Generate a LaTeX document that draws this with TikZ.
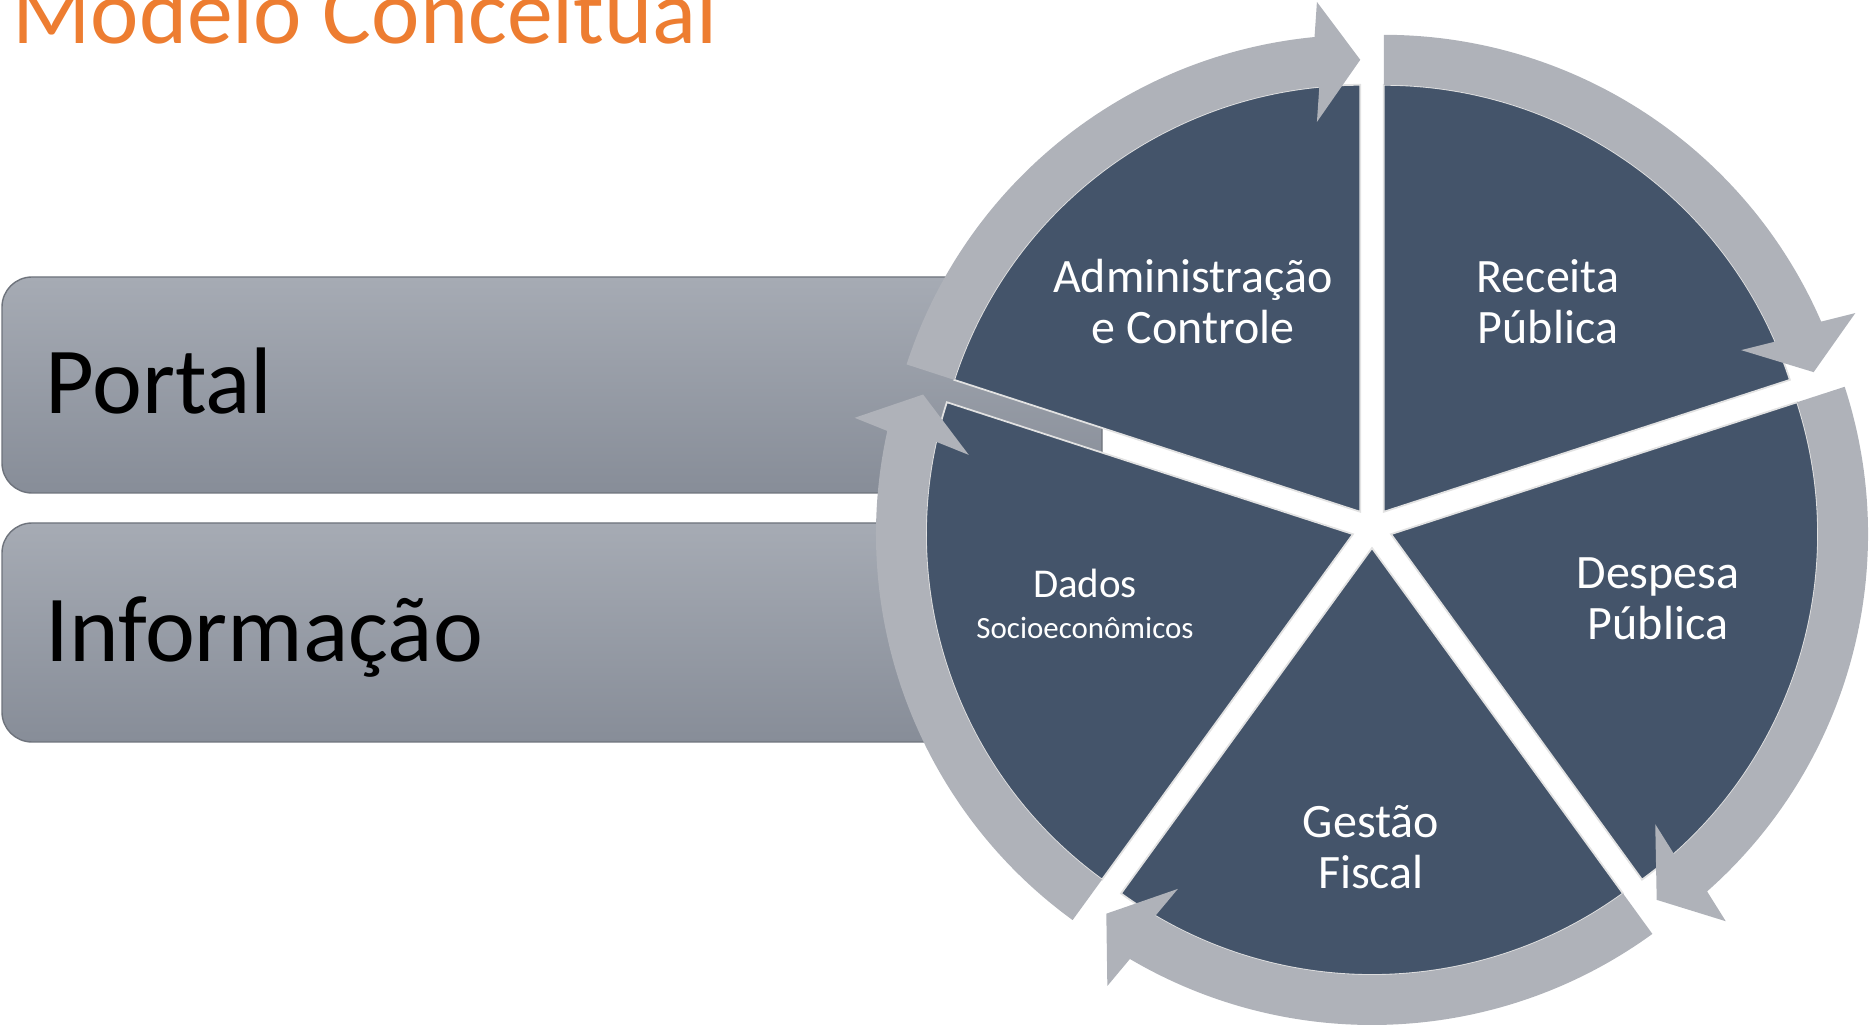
\documentclass[tikz,border=0pt]{standalone}
\usepackage{fontspec}
\setmainfont{Carlito}
\usetikzlibrary{calc}
\definecolor{cycleDark}{HTML}{44546A}
\definecolor{cycleGray}{HTML}{AFB2B9}
\definecolor{barTop}{HTML}{A6ABB4}
\definecolor{barBot}{HTML}{878D98}
\definecolor{barEdge}{HTML}{6E737C}
\definecolor{gapEdge}{HTML}{E2E2E2}
\definecolor{titleOrange}{HTML}{ED7D31}
% arrow band round one sector: vertex, start angle, end angle
\newcommand{\cyclearrow}[3]{%
  \pgfmathsetmacro{\headback}{#3+5.5}
  \fill[ring] ($(#1)+(#2:427)$) arc[start angle=#2, end angle=\headback, radius=427]
    -- ($(#1)+(\headback:452)+(#3:-60)$) -- ($(#1)+(#3:452)$)
    -- ($(#1)+(\headback:452)+(#3:60)$) -- ($(#1)+(\headback:477)$)
    arc[start angle=\headback, end angle=#2, radius=477] -- cycle;}

\begin{document}
\begin{tikzpicture}[
x=0.02cm, y=0.02cm,
bar/.style={draw=barEdge, line width=0.8pt, rounded corners=0.6cm, top color=barTop, bottom color=barBot},
bartext/.style={anchor=base west, inner sep=0pt, font=\fontsize{53.8}{60}\selectfont, text=black},
sector/.style={fill=cycleDark, draw=gapEdge, line width=1pt},
ring/.style={fill=cycleGray},
seglabel/.style={align=center, inner sep=0pt, text=white, font=\fontsize{27.3}{29}\selectfont},
titletext/.style={anchor=base west, inner sep=0pt, text=titleOrange, font=\fontsize{52.2}{54}\selectfont}
]
\clip (0,0) rectangle (1870,-1026);

% Left bars
\path[bar] (2,-277) rectangle (1102,-493);
\node[bartext] (portal) at (45,-414) {Portal};
\path[bar] (2,-523) rectangle (1102,-742);
\node[bartext] (info) at (45,-662) {Informação};

% Exploded pie, vertices pushed out along each bisector
\coordinate (ctr) at (1372,-528);
\coordinate (vAdm) at ($(ctr)+(126:20)$);
\coordinate (vRec) at ($(ctr)+(54:20)$);
\coordinate (vDes) at ($(ctr)+(-18:20)$);
\coordinate (vGes) at ($(ctr)+(-90:20)$);
\coordinate (vDad) at ($(ctr)+(-162:20)$);
\path[sector] (vAdm) -- ($(vAdm)+(162:427)$) arc[start angle=162, end angle=90, radius=427] -- cycle;
\path[sector] (vRec) -- ($(vRec)+(90:427)$) arc[start angle=90, end angle=18, radius=427] -- cycle;
\path[sector] (vDes) -- ($(vDes)+(18:427)$) arc[start angle=18, end angle=-54, radius=427] -- cycle;
\path[sector] (vGes) -- ($(vGes)+(-54:427)$) arc[start angle=-54, end angle=-126, radius=427] -- cycle;
\path[sector] (vDad) -- ($(vDad)+(-126:427)$) arc[start angle=-126, end angle=-198, radius=427] -- cycle;

% Clockwise arrows
\cyclearrow{vAdm}{162}{90}
\cyclearrow{vRec}{90}{18}
\cyclearrow{vDes}{18}{-54}
\cyclearrow{vGes}{-54}{-126}
\cyclearrow{vDad}{-126}{-198}

% Labels
\node[seglabel] (adm) at (1193,-302) {Administração\\e Controle};
\node[seglabel] (rec) at (1548,-302) {Receita\\Pública};
\node[seglabel] (des) at (1658,-599) {Despesa\\Pública};
\node[seglabel] (ges) at (1371,-847) {Gestão\\Fiscal};
\node[seglabel] (dad) at (1085,-604) {{\fontsize{23.3}{24}\selectfont Dados}\\[-6pt]{\fontsize{17.6}{18}\selectfont Socioeconômicos}};

\node[titletext] (title) at (12,-44) {Modelo Conceitual};
\end{tikzpicture}
\end{document}
